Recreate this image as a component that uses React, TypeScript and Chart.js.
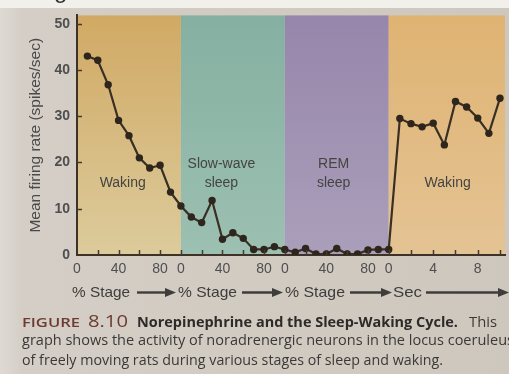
import { useEffect, useRef } from 'react';
import { Chart, registerables } from 'chart.js';

Chart.register(...registerables);

// ---- data ----
const stagePercents = [10, 20, 30, 40, 50, 60, 70, 80, 90, 100];
const wakingRates = [43.0, 42.1, 36.8, 29.1, 25.8, 21.0, 18.8, 19.4, 13.6, 10.6];
const slowWaveRates = [8.2, 7.0, 11.8, 3.4, 4.8, 3.6, 1.2, 1.2, 1.8, 1.2];
const remRates = [0.6, 1.4, 0.2, 0.2, 1.4, 0.2, 0.2, 1.1, 1.2, 1.2];
const recoverySeconds = [1, 2, 3, 4, 5, 6, 7, 8, 9, 10];
const recoveryRates = [29.5, 28.4, 27.7, 28.5, 23.8, 33.2, 32.0, 29.6, 26.3, 33.9];

const stageTickPercents = [0, 20, 40, 60, 80];
const stageLabelPercents = [0, 40, 80];
const secondTicks = [0, 2, 4, 6, 8, 10];
const secondLabels = [0, 4, 8];
const yTicks = [0, 10, 20, 30, 40, 50];
const stageLabelLines = [['Waking'], ['Slow-wave', 'sleep'], ['REM', 'sleep'], ['Waking']];
const yTitle = 'Mean firing rate (spikes/sec)';

// ---- axis construction (3 stages of 100 %, then seconds) ----
const SEC_UNIT = 10.71;
const X_MAX = 300 + 10.45 * SEC_UNIT;
const Y_MAX = 51.8;

const points = [
  ...stagePercents.map((p, i) => ({ x: p, y: wakingRates[i] })),
  ...stagePercents.map((p, i) => ({ x: 100 + p, y: slowWaveRates[i] })),
  ...stagePercents.map((p, i) => ({ x: 200 + p, y: remRates[i] })),
  ...recoverySeconds.map((s, i) => ({ x: 300 + s * SEC_UNIT, y: recoveryRates[i] })),
];

const xTickValues = [
  ...[0, 1, 2].flatMap((st) => stageTickPercents.map((p) => st * 100 + p)),
  ...secondTicks.map((s) => 300 + s * SEC_UNIT),
];

function xLabel(v: number): string {
  if (v < 299.5) {
    const p = Math.round(v) % 100;
    return stageLabelPercents.includes(p) ? String(p) : '';
  }
  const s = Math.round((v - 300) / SEC_UNIT);
  return secondLabels.includes(s) ? String(s) : '';
}

const bandColors = [
  ['#d1a964', '#dccb9c'],
  ['#85b0a1', '#9cc0b2'],
  ['#9786ab', '#aa9fba'],
  ['#dfb372', '#e4c394'],
];
const bandEdges = [0, 100, 200, 300, X_MAX];
const labelAnchorsX = [44, 139, 247, 300 + 5.3 * SEC_UNIT];

const bandsPlugin = {
  id: 'bands',
  beforeDraw(chart: any) {
    const { ctx, chartArea, scales } = chart;
    const { top, bottom } = chartArea;
    const x = scales.x;
    const y = scales.y;
    ctx.save();
    for (let i = 0; i < 4; i++) {
      const x0 = x.getPixelForValue(bandEdges[i]);
      const x1 = x.getPixelForValue(bandEdges[i + 1]);
      const g = ctx.createLinearGradient(0, top, 0, bottom);
      g.addColorStop(0, bandColors[i][0]);
      g.addColorStop(1, bandColors[i][1]);
      ctx.fillStyle = g;
      ctx.fillRect(x0, top, x1 - x0, bottom - top);
    }
    ctx.fillStyle = '#454441';
    ctx.font = '14px "Liberation Sans", Arial, sans-serif';
    ctx.textAlign = 'center';
    ctx.textBaseline = 'middle';
    for (let i = 0; i < 4; i++) {
      const lines = stageLabelLines[i];
      const cx = x.getPixelForValue(labelAnchorsX[i]);
      const baseY = y.getPixelForValue(15.6);
      lines.forEach((t, j) => {
        const ly = baseY - (lines.length - 1 - j) * 19;
        ctx.fillText(t, cx, ly);
      });
    }
    ctx.restore();
  },
  afterDraw(chart: any) {
    const { ctx, chartArea, scales } = chart;
    const { left, bottom } = chartArea;
    ctx.save();
    ctx.strokeStyle = '#463a2c';
    ctx.lineWidth = 1.5;
    ctx.beginPath();
    scales.x.ticks.forEach((t: any) => {
      if (t.value === 0) return;
      const px = Math.round(scales.x.getPixelForValue(t.value)) + 0.5;
      ctx.moveTo(px, bottom);
      ctx.lineTo(px, bottom - 5);
    });
    scales.y.ticks.forEach((t: any) => {
      if (t.value === 0) return;
      const py = Math.round(scales.y.getPixelForValue(t.value)) + 0.5;
      ctx.moveTo(left, py);
      ctx.lineTo(left + 5, py);
    });
    ctx.stroke();
    ctx.restore();
  },
};

const tickFont = { size: 14, family: '"Liberation Sans", Arial, sans-serif' };

export default function App() {
  const ref = useRef<HTMLCanvasElement>(null);

  useEffect(() => {
    if (!ref.current) return;
    const chart = new Chart(ref.current, {
      type: 'line',
      data: {
        datasets: [
          {
            data: points,
            borderColor: '#3a2f24',
            borderWidth: 2.2,
            pointRadius: 3.7,
            pointBackgroundColor: '#2e251c',
            pointBorderWidth: 0,
            tension: 0,
          },
        ],
      },
      options: {
        animation: false,
        responsive: false,
        devicePixelRatio: 1,
        layout: { padding: { top: 13, left: 0, right: 0, bottom: 0 } },
        plugins: { legend: { display: false }, tooltip: { enabled: false } },
        scales: {
          x: {
            type: 'linear',
            min: 0,
            max: X_MAX,
            afterBuildTicks: (s: any) => {
              s.ticks = xTickValues.map((v) => ({ value: v }));
            },
            afterFit: (s: any) => {
              s.height = 30;
            },
            ticks: {
              autoSkip: false,
              maxRotation: 0,
              minRotation: 0,
              padding: 6,
              color: '#4f4f4f',
              font: tickFont,
              callback: (v: any) => xLabel(Number(v)),
            },
            grid: { display: false, drawTicks: false },
            border: { display: true, color: '#3d3226', width: 2 },
          },
          y: {
            min: 0,
            max: Y_MAX,
            afterBuildTicks: (s: any) => {
              s.ticks = yTicks.map((v) => ({ value: v }));
            },
            afterFit: (s: any) => {
              s.width = 77;
            },
            ticks: {
              padding: 7,
              color: '#4f4f4f',
              font: { ...tickFont, weight: 'bold' },
            },
            grid: { display: false, drawTicks: false },
            border: { display: true, color: '#3d3226', width: 2 },
            title: {
              display: true,
              text: yTitle,
              color: '#4a4a4a',
              font: { ...tickFont, size: 15.5 },
              padding: { top: 26, bottom: 0 },
            },
          },
        },
      },
      plugins: [bandsPlugin],
    } as any);
    return () => chart.destroy();
  }, []);

  const textFill = '#3e3d3b';
  const arrow = (x1: number, x2: number, y: number) => (
    <g>
      <line x1={x1} y1={y} x2={x2 - 8} y2={y} stroke={textFill} strokeWidth={2.4} />
      <polygon points={`${x2 - 11},${y - 4.5} ${x2},${y} ${x2 - 11},${y + 4.5}`} fill={textFill} />
    </g>
  );

  return (
    <div
      style={{
        position: 'fixed',
        left: 0,
        top: 0,
        width: 509,
        height: 374,
        overflow: 'hidden',
        background: 'linear-gradient(to right, #dedad3 0px, #d4cec6 22px, #cec7bd 100%)',
      }}
    >
      <canvas ref={ref} width={509} height={285} style={{ position: 'absolute', left: 0, top: 0 }} />
      <svg
        width={509}
        height={374}
        style={{ position: 'absolute', left: 0, top: 0, pointerEvents: 'none' }}
      >
        <rect x={0} y={0} width={509} height={8} fill="#f2f0eb" />
        <text x={54} y={-2} fontSize={24} fill="#333" fontFamily='"Liberation Sans", Arial'>g</text>
        <g fontFamily='"Liberation Sans", Arial, sans-serif' fontSize={15} fill={textFill}>
          <text x={72} y={297} textLength={58} lengthAdjust="spacingAndGlyphs">% Stage</text>
          <text x={178} y={297} textLength={59} lengthAdjust="spacingAndGlyphs">% Stage</text>
          <text x={285} y={297} textLength={60} lengthAdjust="spacingAndGlyphs">% Stage</text>
          <text x={393} y={297} textLength={29} lengthAdjust="spacingAndGlyphs">Sec</text>
        </g>
        {arrow(137, 176, 292.5)}
        {arrow(242, 283, 292.5)}
        {arrow(350, 392, 292.5)}
        {arrow(426, 509, 292.5)}
        <g fontFamily='"Open Sans", "Liberation Sans", sans-serif'>
          <text x={22} y={327} fontSize={13} fontWeight={600} fill="#6c3c33" textLength={58} lengthAdjust="spacingAndGlyphs">FIGURE</text>
          <text x={88} y={327} fontSize={17} fill="#6c3c33" textLength={40} lengthAdjust="spacingAndGlyphs">8.10</text>
          <text x={137} y={327} fontSize={13.5} fontWeight={700} fill="#2c2b29" textLength={321} lengthAdjust="spacingAndGlyphs">Norepinephrine and the Sleep-Waking Cycle.</text>
          <text x={469} y={327} fontSize={14} fill="#3a3937" textLength={28} lengthAdjust="spacingAndGlyphs">This</text>
          <text x={22} y={345} fontSize={14} fill="#3a3937" textLength={492} lengthAdjust="spacingAndGlyphs">graph shows the activity of noradrenergic neurons in the locus coeruleus</text>
          <text x={22} y={365} fontSize={14} fill="#3a3937" textLength={421} lengthAdjust="spacingAndGlyphs">of freely moving rats during various stages of sleep and waking.</text>
        </g>
      </svg>
    </div>
  );
}
